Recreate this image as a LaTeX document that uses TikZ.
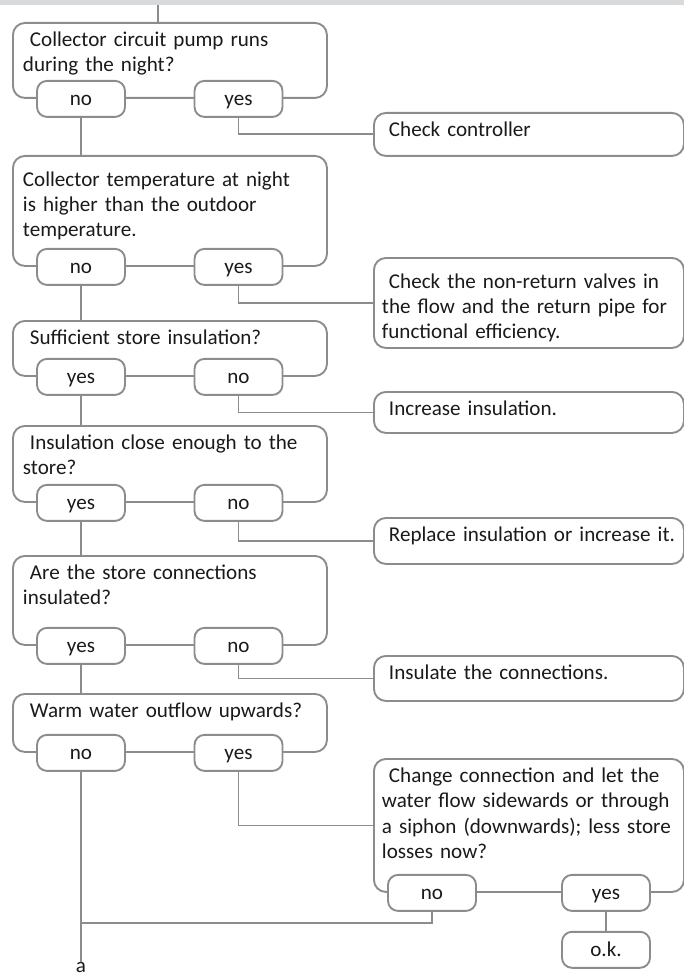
\documentclass[tikz,border=0pt]{standalone}
\usepackage{fontspec}
\setmainfont{Carlito}
\usepackage{tikz}
\usetikzlibrary{positioning}

\begin{document}
\begin{tikzpicture}[
  every node/.style={font=\fontsize{15}{17.8}\selectfont, text=textBlack},
  qbox/.style={draw=lineGray, line width=1.35pt, rounded corners=0.3cm, anchor=north west,
    text width=7.35cm, align=left, inner xsep=0.25cm, inner ysep=0.15cm, text height=0.45cm},
  abox/.style={qbox, inner xsep=0.2cm},
  pill/.style={draw=lineGray, line width=1.35pt, fill=white, rounded corners=0.25cm,
    minimum width=2.2cm, minimum height=0.9cm, inner sep=0pt, text height=0.4cm, text depth=0.075cm},
  link/.style={draw=lineGray, line width=1.35pt}
]

% Colours
\definecolor{lineGray}{HTML}{8C8C8C}
\definecolor{bandGray}{HTML}{D9DADC}
\definecolor{textBlack}{HTML}{1A1A1A}

% Pill offsets from the box corner
\def\xl{1.725cm}
\def\xr{5.6625cm}

\useasboundingbox (0,0) rectangle (17.1,-24.425);

% Top band
\fill[bandGray] (0,0) rectangle (17.1,-0.125);
\coordinate (feed) at (3.95,-0.125);

% Questions (left column)
\node[qbox, text depth=1.125cm] (q1) at (0.3,-0.55) {\ Collector circuit pump runs\\during the night?};
\node[qbox, text height=0.625cm, text depth=1.825cm] (q2) at (0.3,-3.875) {Collector temperature at night\\is higher than the outdoor\\temperature.};
\node[qbox, text depth=0.625cm] (q3) at (0.3,-8.0) {\ Sufficient store insulation?};
\node[qbox, text depth=1.15cm] (q4) at (0.3,-10.625) {\ Insulation close enough to the\\store?};
\node[qbox, text depth=1.475cm] (q5) at (0.3,-13.875) {\ Are the store connections\\insulated?};
\node[qbox, text depth=0.7cm] (q6) at (0.3,-17.325) {\ Warm water outflow upwards?};

% Actions (right column)
\node[abox, text depth=0.325cm] (a1) at (9.325,-2.8) {\ Check controller};
\node[abox, text height=0.625cm, text depth=1.325cm] (a2) at (9.325,-6.425) {\ Check the non-return valves in\\the flow and the return pipe for\\functional efficiency.};
\node[abox, text depth=0.275cm] (a3) at (9.325,-9.775) {\ Increase insulation.};
\node[abox, text depth=0.4cm] (a4) at (9.325,-12.925) {\ Replace insulation or increase it.};
\node[abox, text depth=0.375cm] (a5) at (9.325,-16.375) {\ Insulate the connections.};
\node[abox, text depth=2.575cm] (a6) at (9.325,-18.95) {\ Change connection and let the\\water flow sidewards or through\\a siphon (downwards); less store\\losses now?};

% Answers
\node[pill, xshift=\xl] (q1l) at (q1.south west) {no};
\node[pill, xshift=\xr] (q1r) at (q1.south west) {yes};
\node[pill, xshift=\xl] (q2l) at (q2.south west) {no};
\node[pill, xshift=\xr] (q2r) at (q2.south west) {yes};
\node[pill, xshift=\xl] (q3l) at (q3.south west) {yes};
\node[pill, xshift=\xr] (q3r) at (q3.south west) {no};
\node[pill, xshift=\xl] (q4l) at (q4.south west) {yes};
\node[pill, xshift=\xr] (q4r) at (q4.south west) {no};
\node[pill, xshift=\xl] (q5l) at (q5.south west) {yes};
\node[pill, xshift=\xr] (q5r) at (q5.south west) {no};
\node[pill, xshift=\xl] (q6l) at (q6.south west) {no};
\node[pill, xshift=\xr] (q6r) at (q6.south west) {yes};
\node[pill, xshift=1.475cm] (a6l) at (a6.south west) {no};
\node[pill, xshift=5.825cm] (a6r) at (a6.south west) {yes};
\node[pill, below=0.475cm of a6r] (ok) {o.k.};

\node[anchor=north, inner sep=0pt] (lbla) at (2.025,-24.05) {a};
\coordinate (join) at (q6l |- 0,-23.075);

% Connectors
\draw[link] (feed) -- (feed |- q1.north);
\draw[link] (q1l) -- (q1l |- q2.north);
\draw[link] (q2l) -- (q2l |- q3.north);
\draw[link] (q3l) -- (q3l |- q4.north);
\draw[link] (q4l) -- (q4l |- q5.north);
\draw[link] (q5l) -- (q5l |- q6.north);
\draw[link] (q6l) -- (lbla);
\draw[link] (q1r) |- (a1);
\draw[link] (q2r) |- (a2);
\draw[link] (q3r) |- (a3);
\draw[link] (q4r) |- (a4);
\draw[link] (q5r) |- (a5);
\draw[link] (q6r) |- (a6);
\draw[link] (a6l) |- (join);
\draw[link] (a6r) -- (ok);

\end{tikzpicture}
\end{document}
